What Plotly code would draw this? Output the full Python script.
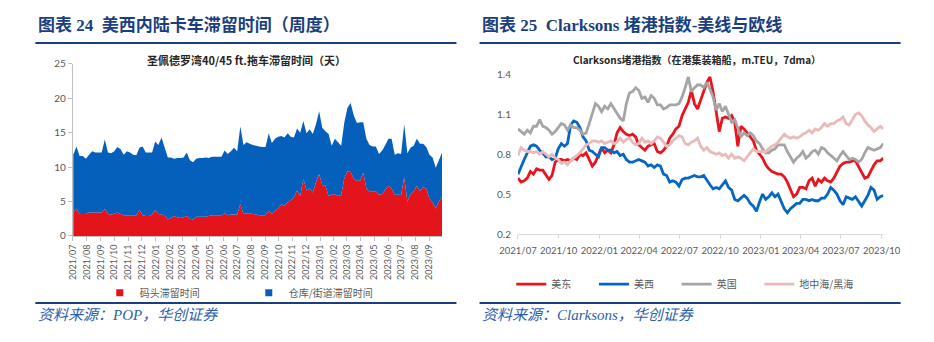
import pandas as pd
import plotly.graph_objects as go

# ---------------- Left chart: San Pedro Bay 40/45 ft trailer dwell time (days), weekly ----------------
week_dates = pd.date_range("2021-07-02", periods=118, freq="7D")

pier_days = [3.4, 4.0, 3.2, 3.2, 3.2, 3.4, 3.4, 3.4, 3.4, 3.4,
             3.9, 3.2, 3.1, 3.2, 3.4, 3.2, 3.0, 3.0, 3.0, 3.0,
             3.0, 3.8, 3.0, 2.9, 2.9, 3.1, 3.8, 3.2, 3.1, 3.0,
             2.4, 2.6, 2.9, 2.7, 2.6, 2.7, 2.9, 2.5, 2.4, 2.8,
             2.8, 2.8, 2.8, 2.9, 3.0, 3.0, 3.0, 3.0, 3.3, 3.0,
             3.1, 3.1, 3.1, 4.6, 3.2, 3.3, 3.3, 3.2, 3.1, 3.0,
             3.0, 3.0, 3.7, 3.2, 3.7, 4.0, 4.6, 4.4, 4.9, 5.2,
             5.6, 6.6, 5.8, 8.3, 6.6, 6.9, 6.3, 7.8, 9.0, 7.4,
             7.3, 5.8, 6.0, 6.1, 5.8, 5.9, 8.4, 9.4, 9.3, 8.3,
             8.0, 8.0, 9.2, 6.9, 6.5, 6.5, 6.5, 6.0, 6.1, 6.7,
             7.3, 6.9, 6.0, 6.0, 6.0, 8.5, 5.0, 6.1, 6.5, 7.3,
             6.5, 7.1, 6.9, 5.4, 4.9, 4.0, 5.0, 5.8]

yard_days = [8.4, 9.0, 8.4, 8.4, 8.0, 8.4, 8.9, 8.7, 8.7, 8.7,
             10.1, 8.9, 8.9, 9.1, 9.5, 9.4, 8.8, 9.3, 9.1, 8.8,
             8.7, 9.0, 10.0, 9.2, 9.2, 9.0, 9.9, 10.0, 11.2, 9.8,
             9.0, 8.8, 8.3, 8.6, 8.7, 8.7, 9.2, 8.5, 8.3, 8.4,
             8.5, 8.5, 8.6, 8.4, 8.5, 8.5, 8.5, 8.5, 9.1, 8.9,
             9.2, 9.7, 9.2, 11.3, 10.0, 10.3, 10.1, 10.0, 10.0, 10.0,
             9.9, 9.9, 11.2, 10.3, 10.4, 10.4, 9.9, 9.9, 10.0, 9.2,
             8.7, 9.0, 9.2, 8.4, 8.3, 8.6, 8.5, 8.4, 9.1, 8.3,
             7.9, 9.0, 7.1, 8.0, 7.8, 7.2, 8.1, 9.2, 10.0, 9.2,
             8.4, 8.5, 7.3, 7.2, 6.7, 6.5, 6.5, 5.9, 6.3, 6.5,
             6.8, 7.2, 5.8, 6.0, 5.9, 7.7, 7.0, 6.7, 6.6, 6.8,
             6.9, 6.3, 6.0, 6.4, 6.5, 5.9, 6.0, 6.3]

left_names = ["码头滞留时间", "仓库/街道滞留时间"]

# ---------------- Right chart: Clarksons congestion index (m.TEU, 7dma) ----------------
day_dates = pd.date_range("2021-07-01", periods=119, freq="7D")

us_east = [.62, .59, .60, .62, .67, .65, .69, .68, .68, .64,
           .61, .64, .74, .76, .76, .75, .76, .75, .77, .76,
           .80, .79, .81, .76, .71, .74, .80, .85, .81, .83,
           .81, .87, .96, 1.00, .97, .95, .94, .95, .93, .87,
           .85, .83, .86, .87, .88, .82, .81, .83, .86, .92,
           .95, .99, 1.01, 1.09, 1.14, 1.19, 1.28, 1.18, 1.14, 1.21,
           1.27, 1.34, 1.38, 1.27, 1.12, .97, 1.07, 1.08, 1.07, 1.09,
           1.04, .86, 1.01, .99, .96, .93, .90, .83, .80, .77,
           .72, .69, .67, .66, .65, .65, .63, .59, .53, .48,
           .50, .55, .55, .54, .60, .62, .56, .61, .59, .62,
           .60, .59, .62, .66, .71, .73, .74, .74, .75, .75,
           .71, .66, .62, .63, .68, .72, .75, .75, .77]

us_west = [.65, .71, .76, .81, .86, .87, .86, .83, .81, .78,
           .78, .76, .77, .84, .88, .86, .88, 1.02, 1.05, 1.04,
           1.00, .93, .90, .83, .82, .80, .78, .85, .85, .83,
           .83, .81, .82, .79, .80, .76, .74, .74, .75, .76,
           .75, .74, .71, .72, .70, .72, .71, .65, .64, .59,
           .60, .59, .56, .61, .62, .62, .63, .64, .63, .63,
           .64, .60, .57, .54, .55, .54, .57, .60, .55, .53,
           .46, .45, .47, .49, .47, .43, .41, .37, .44, .50,
           .46, .48, .51, .48, .50, .45, .39, .36, .39, .41,
           .43, .43, .46, .46, .45, .46, .45, .45, .47, .47,
           .50, .55, .53, .50, .45, .42, .48, .47, .46, .48,
           .44, .41, .45, .49, .55, .53, .46, .48, .49]

uk = [.99, .97, .95, .98, .96, 1.01, 1.01, 1.06, 1.01, 1.00,
      .98, .95, .97, 1.00, 1.03, 1.02, .98, 1.02, 1.00, 1.00,
      .98, .95, .96, 1.03, 1.10, 1.18, 1.16, 1.12, 1.16, 1.14,
      1.18, 1.14, 1.10, 1.07, 1.05, 1.18, 1.26, 1.27, 1.30, 1.28,
      1.22, 1.23, 1.19, 1.24, 1.22, 1.17, 1.17, 1.14, 1.15, 1.17,
      1.17, 1.17, 1.18, 1.23, 1.30, 1.38, 1.27, 1.30, 1.32, 1.32,
      1.30, 1.34, 1.29, 1.23, 1.13, 1.18, 1.12, 1.16, 1.10, 1.04,
      1.06, 1.00, .93, .96, .94, .96, .94, .90, .88, .84,
      .81, .81, .83, .84, .87, .87, .87, .82, .78, .74,
      .77, .79, .82, .77, .79, .82, .83, .80, .85, .84,
      .81, .79, .77, .75, .79, .82, .79, .76, .77, .76,
      .74, .76, .81, .85, .84, .83, .84, .85, .88]

med_black = [.79, .85, .83, .82, .82, .81, .82, .80, .82, .80,
             .78, .80, .77, .76, .73, .74, .72, .75, .77, .79,
             .81, .84, .87, .88, .90, .90, .89, .90, .88, .89,
             .90, .88, .89, .92, .89, .91, .92, .89, .87, .88,
             .92, .89, .90, .88, .90, .93, .92, .89, .86, .87,
             .90, .92, .94, .93, .88, .87, .89, .90, .92, .86,
             .83, .85, .82, .81, .80, .81, .79, .80, .77, .80,
             .77, .78, .77, .75, .78, .81, .84, .82, .82, .82,
             .82, .84, .86, .87, .89, .92, .95, .93, .92, .93,
             .92, .93, .95, .96, .98, .96, .99, .98, 1.00, 1.03,
             1.01, 1.03, 1.03, 1.05, 1.06, 1.08, 1.03, 1.02, 1.06, 1.10,
             1.11, 1.09, 1.05, 1.02, 1.00, .97, .99, 1.01, .99]

right_names = ["美东", "美西", "英国", "地中海/黑海"]

# ---------------- styles ----------------
W, H = 934, 342
RED = "#E3141C"
BLUE = "#0560BB"
LINE_RED = "#E8141E"
LINE_BLUE = "#0566C4"
GRAY = "#A5A5A5"
PINK = "#E8BAB9"
NAVY = "#1B3F7E"
SRC_BLUE = "#2A5FAE"
TICK = "#595959"
AX = "#BFBFBF"
LAT = "Lato, 'Noto Sans CJK SC', sans-serif"
CJK = "'Noto Sans CJK SC', sans-serif"


def px(x):
    return x / W


def py(y):
    return (H - y) / H


fig = go.Figure()

# left stacked areas
fig.add_trace(go.Scatter(x=week_dates, y=pier_days, stackgroup="s", mode="none",
                         fillcolor=RED, name=left_names[0], showlegend=False,
                         xaxis="x", yaxis="y"))
fig.add_trace(go.Scatter(x=week_dates, y=yard_days, stackgroup="s", mode="none",
                         fillcolor=BLUE, name=left_names[1], showlegend=False,
                         xaxis="x", yaxis="y"))
# legend entries for the areas (square swatches), one legend box each
left_leg = ["legend", "legend2"]
for nm, col, lg in zip(left_names, [RED, BLUE], left_leg):
    fig.add_trace(go.Scatter(x=[None], y=[None], mode="markers", name=nm,
                             marker=dict(symbol="square", size=7, color=col),
                             xaxis="x", yaxis="y", legend=lg))

# right lines
right_leg = ["legend3", "legend4", "legend5", "legend6"]
for nm, vals, col, lg in zip(right_names, [us_east, us_west, uk, med_black],
                             [LINE_RED, LINE_BLUE, GRAY, PINK], right_leg):
    fig.add_trace(go.Scatter(x=day_dates, y=vals, mode="lines", name=nm,
                             line=dict(color=col, width=2.8),
                             xaxis="x2", yaxis="y2", legend=lg))


def leg(x_left, y_mid):
    return dict(orientation="h", x=px(x_left), y=py(y_mid), xanchor="left",
                yanchor="middle", font=dict(family=CJK, size=10, color=TICK),
                bgcolor="rgba(0,0,0,0)", itemclick=False, itemdoubleclick=False)


fig.update_layout(
    width=W, height=H,
    margin=dict(l=0, r=0, t=0, b=0),
    paper_bgcolor="white", plot_bgcolor="white",
    showlegend=True,
    xaxis=dict(domain=[px(56), px(440)], anchor="y", type="date",
               range=["2021-07-01", "2023-09-29"], dtick="M1", tick0="2021-07-01",
               tickformat="%Y/%m", tickangle=-90, ticks="outside", ticklen=4,
               tickcolor=AX, showline=True, linecolor=AX, linewidth=1,
               showgrid=False, zeroline=False,
               tickfont=dict(family=LAT, size=9, color=TICK)),
    yaxis=dict(domain=[py(238), py(59)], anchor="x", range=[0, 25], dtick=5,
               ticks="outside", ticklen=4, tickcolor=AX, showline=True,
               linecolor=AX, linewidth=1, showgrid=False, zeroline=False,
               tickfont=dict(family=LAT, size=10, color=TICK)),
    xaxis2=dict(domain=[px(519), px(899)], anchor="y2", type="date",
                range=["2021-07-01", "2023-10-05"], dtick="M3", tick0="2021-07-01",
                tickformat="%Y/%m", tickangle=0, ticks="outside", ticklen=4,
                tickcolor="#D9D9D9", showline=True, linecolor="#D9D9D9",
                linewidth=1, showgrid=False, zeroline=False, ticklabelstandoff=4,
                tickfont=dict(family=LAT, size=9.5, color=TICK)),
    yaxis2=dict(domain=[py(236), py(70)], anchor="x2", range=[0.2, 1.4],
                tick0=0.2, dtick=0.3, tickformat=".1f", showline=False,
                ticks="", showgrid=False, zeroline=False, ticklabelstandoff=6,
                tickfont=dict(family=LAT, size=10, color=TICK)),
    legend=leg(84, 297),
    legend2=leg(239, 297),
    legend3=leg(512, 288),
    legend4=leg(598, 288),
    legend5=leg(684, 288),
    legend6=leg(770, 288),
)

# header / footer decorations
for x0, x1 in [(17, 455), (479, 917)]:
    for yy in (37.5, 307.7):
        fig.add_shape(type="line", xref="paper", yref="paper",
                      x0=px(x0), x1=px(x1), y0=py(yy), y1=py(yy),
                      line=dict(color=NAVY, width=2))

titles = [
    (18, "<b>图表 24  美西内陆卡车滞留时间（周度）</b>"),
    (480, "<b>图表 25  Clarksons 堵港指数-美线与欧线</b>"),
]
for x0, t in titles:
    fig.add_annotation(x=px(x0), y=py(19), xref="paper", yref="paper",
                       xanchor="left", yanchor="middle", showarrow=False, text=t,
                       font=dict(family="'Liberation Serif', 'Noto Sans CJK SC', serif",
                                 size=17, color=NAVY))

subtitles = [
    (237, "<b>圣佩德罗湾40/45 ft.拖车滞留时间（天）</b>", 11),
    (705, "<b>Clarksons堵港指数（在港集装箱船，m.TEU，7dma）</b>", 10),
]
for xc, t, s in subtitles:
    fig.add_annotation(x=px(xc), y=py(55), xref="paper", yref="paper",
                       xanchor="center", yanchor="middle", showarrow=False, text=t,
                       font=dict(family=CJK, size=s, color="#262626"))

sources = [
    (18, "<i>资料来源：POP，华创证券</i>"),
    (480, "<i>资料来源：Clarksons，华创证券</i>"),
]
for x0, t in sources:
    fig.add_annotation(x=px(x0), y=py(320), xref="paper", yref="paper",
                       xanchor="left", yanchor="middle", showarrow=False, text=t,
                       font=dict(family="'Liberation Serif', 'Noto Sans CJK SC', serif",
                                 size=15, color=SRC_BLUE))

fig.write_html("out.html")
